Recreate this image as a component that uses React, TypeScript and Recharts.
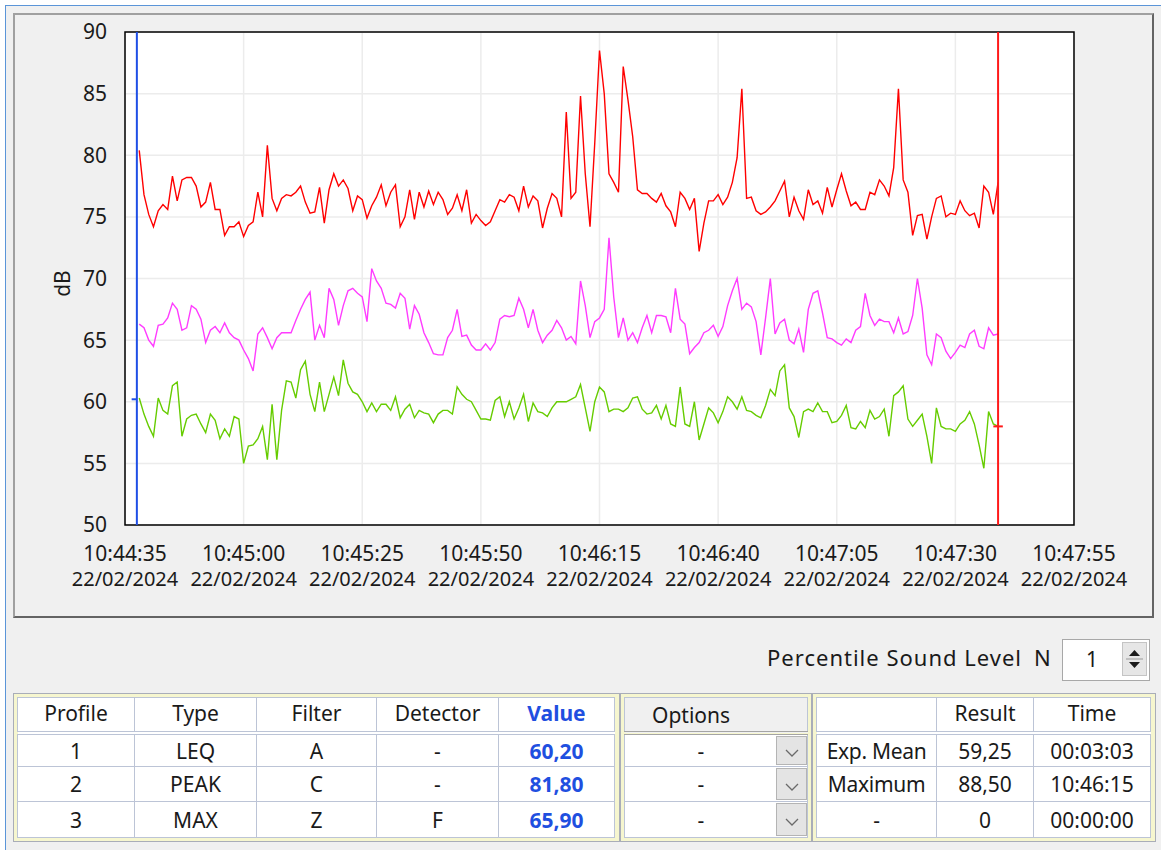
import {
  LineChart,
  Line,
  XAxis,
  YAxis,
  CartesianGrid,
  ReferenceArea,
  ReferenceLine,
} from "recharts";

const FONT = "'Noto Sans', 'DejaVu Sans', sans-serif";
const TEXT = "#1a1a1a";

// seconds after 10:44:35 of the first sample, one sample per second
const START_S = 3;

// Profile 2 - PEAK C (red)
const peakC = [
  80.4, 76.8, 75.2, 74.2, 75.5, 76.0, 75.6, 78.3, 76.3, 78.0,
  78.2, 78.2, 77.5, 75.8, 76.2, 77.8, 75.6, 75.6, 73.5, 74.2,
  74.2, 74.6, 73.4, 74.3, 74.6, 77.0, 75.0, 80.8, 76.5, 75.5,
  76.5, 76.8, 76.7, 77.0, 77.5, 76.2, 75.3, 75.4, 77.4, 74.5,
  77.2, 78.5, 77.5, 78.0, 77.3, 75.5, 76.7, 76.4, 74.9, 75.9,
  76.6, 77.6, 75.9, 77.0, 77.6, 74.2, 75.0, 77.2, 74.8, 77.0,
  75.8, 77.1, 76.0, 77.0, 76.4, 75.2, 75.7, 76.8, 75.5, 77.2,
  74.5, 75.2, 74.7, 74.3, 74.6, 75.5, 76.4, 76.2, 76.8, 76.6,
  75.5, 77.5, 75.8, 76.7, 76.3, 74.1, 75.7, 76.9, 76.5, 75.0,
  83.5, 76.5, 77.0, 84.8, 78.5, 74.2, 81.0, 88.5, 85.0, 78.5,
  77.8, 77.0, 87.2, 84.5, 81.5, 77.2, 76.9, 76.9, 76.5, 76.2,
  76.9, 75.9, 75.4, 74.2, 77.0, 76.5, 75.6, 76.5, 72.2, 74.5,
  76.3, 76.3, 76.8, 76.0, 76.6, 77.8, 79.8, 85.4, 76.5, 76.6,
  75.5, 75.2, 75.4, 75.8, 76.3, 77.1, 77.9, 75.0, 76.6, 75.5,
  74.8, 77.2, 76.0, 76.3, 75.3, 77.4, 75.8, 77.2, 78.5, 77.1,
  75.9, 76.2, 75.6, 75.6, 77.0, 76.8, 78.0, 77.5, 76.7, 79.0,
  85.4, 78.0, 77.0, 73.5, 75.1, 75.2, 73.2, 75.0, 76.5, 76.7,
  75.0, 75.3, 75.2, 76.3, 75.5, 75.1, 75.3, 74.1, 77.5, 77.0,
  75.2, 77.8,
];

// Profile 3 - MAX Z F (magenta)
const maxZ = [
  66.3, 66.0, 65.0, 64.5, 66.2, 66.3, 66.8, 68.0, 67.5, 65.8,
  66.0, 67.8, 67.5, 66.7, 64.8, 65.8, 66.1, 65.6, 66.4, 65.6,
  65.2, 65.0, 64.2, 63.5, 62.5, 65.5, 66.0, 65.2, 64.3, 65.2,
  65.6, 65.6, 65.6, 66.6, 67.5, 68.3, 68.9, 65.0, 66.2, 65.2,
  69.2, 68.3, 66.2, 67.8, 69.0, 69.2, 68.8, 68.5, 66.5, 70.8,
  69.8, 69.2, 68.0, 67.9, 67.6, 68.8, 68.4, 65.9, 67.8, 67.1,
  65.6, 64.8, 63.9, 63.8, 63.8, 65.2, 65.8, 67.5, 65.3, 65.4,
  64.6, 64.2, 64.2, 64.7, 64.2, 64.8, 66.7, 67.0, 66.9, 67.0,
  68.4, 67.5, 66.0, 67.5, 65.8, 64.8, 65.4, 65.8, 66.6, 66.0,
  65.0, 65.3, 64.7, 69.8, 67.8, 65.2, 66.5, 66.8, 67.5, 73.3,
  68.5, 65.2, 66.8, 65.0, 65.6, 64.8, 66.0, 67.0, 65.6, 67.0,
  67.0, 66.9, 65.6, 69.2, 66.7, 66.3, 63.9, 64.4, 64.8, 65.6,
  65.8, 66.2, 65.3, 66.1, 67.8, 69.0, 70.0, 67.5, 68.0, 67.7,
  66.5, 63.8, 66.8, 70.0, 65.5, 66.4, 66.7, 65.0, 64.7, 65.9,
  64.0, 67.5, 68.8, 69.0, 67.2, 65.2, 65.1, 64.8, 64.6, 65.1,
  64.8, 65.8, 66.1, 68.8, 67.0, 66.2, 66.7, 66.5, 66.5, 65.6,
  66.8, 65.5, 65.7, 67.0, 70.0, 67.6, 63.8, 63.0, 65.5, 65.2,
  64.1, 63.5, 64.0, 64.6, 64.4, 65.5, 65.8, 64.5, 64.3, 66.0,
  65.4, 65.5,
];

// Profile 1 - LEQ A (green)
const leqA = [
  60.3, 59.0, 58.0, 57.2, 60.3, 59.3, 59.0, 61.3, 61.6, 57.2,
  58.6, 58.9, 59.0, 58.2, 57.5, 59.0, 58.5, 57.0, 57.8, 57.2,
  58.8, 58.6, 55.0, 56.4, 56.5, 57.0, 58.0, 55.3, 59.8, 55.3,
  59.3, 61.7, 61.6, 60.3, 62.6, 63.3, 60.6, 59.2, 61.6, 59.2,
  60.6, 62.0, 60.5, 63.4, 61.5, 60.8, 60.6, 60.0, 59.2, 59.9,
  59.2, 59.8, 59.8, 59.3, 60.4, 58.7, 59.4, 59.8, 58.7, 59.3,
  59.1, 59.0, 58.3, 59.0, 59.3, 59.3, 59.0, 61.2, 60.6, 60.2,
  60.0, 59.3, 58.6, 58.6, 58.5, 60.1, 60.4, 58.8, 60.0, 58.6,
  59.5, 60.6, 58.4, 59.9, 59.2, 59.1, 58.8, 59.5, 60.0, 60.0,
  60.0, 60.2, 60.4, 61.4, 59.5, 57.6, 60.0, 61.2, 60.8, 59.2,
  59.4, 59.4, 59.2, 59.5, 60.3, 60.4, 59.4, 59.0, 59.1, 59.7,
  58.6, 59.7, 58.2, 58.0, 61.2, 58.2, 58.0, 60.0, 56.9, 58.2,
  59.5, 59.1, 58.3, 59.2, 60.4, 60.0, 59.4, 60.4, 59.3, 59.2,
  58.9, 58.7, 59.7, 61.0, 60.5, 62.5, 63.0, 59.5, 58.8, 57.1,
  59.2, 59.4, 59.2, 59.9, 59.2, 59.2, 58.3, 58.4, 58.9, 59.7,
  57.9, 57.8, 58.4, 57.9, 59.3, 58.6, 58.8, 59.4, 57.2, 60.5,
  60.8, 61.3, 58.6, 58.0, 58.5, 59.0, 57.2, 55.0, 59.5, 58.0,
  57.8, 57.8, 57.6, 58.2, 58.5, 59.2, 58.2, 56.5, 54.6, 59.2,
  58.2, 58.0,
];

const xTicks = [0, 25, 50, 75, 100, 125, 150, 175, 200];
const xTickTimes = [
  "10:44:35", "10:45:00", "10:45:25", "10:45:50", "10:46:15",
  "10:46:40", "10:47:05", "10:47:30", "10:47:55",
];
const xTickDate = "22/02/2024";
const yTicks = [50, 55, 60, 65, 70, 75, 80, 85, 90];

const cursorStart = 2.5;
const cursorEnd = 184;
const cursorStartLevel = 60.2;
const cursorEndLevel = 58.0;

const profileHeader = ["Profile", "Type", "Filter", "Detector", "Value"];
const profileRows = [
  ["1", "LEQ", "A", "-", "60,20"],
  ["2", "PEAK", "C", "-", "81,80"],
  ["3", "MAX", "Z", "F", "65,90"],
];
const optionRows = ["-", "-", "-"];
const resultHeader = ["", "Result", "Time"];
const resultRows = [
  ["Exp. Mean", "59,25", "00:03:03"],
  ["Maximum", "88,50", "10:46:15"],
  ["-", "0", "00:00:00"],
];
const percentileN = "1";

const data = peakC.map((v, i) => ({
  t: START_S + i,
  peak: v,
  max: maxZ[i],
  leq: leqA[i],
}));

const TimeTick = (props: any) => {
  const { x, y, payload } = props;
  const i = xTicks.indexOf(payload.value);
  return (
    <g>
      <text x={x} y={y + 28} textAnchor="middle" dominantBaseline="central"
        fontSize={21} fontFamily={FONT} fill={TEXT}>
        {xTickTimes[i]}
      </text>
      <text x={x} y={y + 53} textAnchor="middle" dominantBaseline="central"
        fontSize={20} fontFamily={FONT} fill={TEXT}>
        {xTickDate}
      </text>
    </g>
  );
};

const UnitLabel = (props: any) => {
  const { viewBox } = props;
  const cx = viewBox.x + 48;
  const cy = viewBox.y + viewBox.height / 2 + 5;
  return (
    <text x={cx} y={cy} transform={`rotate(-90, ${cx}, ${cy})`} textAnchor="middle"
      dominantBaseline="central" fontSize={21} fontFamily={FONT} fill={TEXT}>
      dB
    </text>
  );
};

const cellBorder = "1px solid #bcc4d6";
const rowHeights = [31, 34, 35];

const Frame = ({ left, width, children }: any) => (
  <div
    style={{
      position: "absolute",
      left,
      top: 693,
      width,
      height: 149,
      boxSizing: "border-box",
      border: "1px solid #a9adb8",
      padding: 3,
      background: "#f6f6cf",
    }}
  >
    {children}
  </div>
);

const cellStyle = (h: number, extra: any = {}) => ({
  border: cellBorder,
  height: h,
  padding: 0,
  textAlign: "center" as const,
  fontSize: 21,
  color: TEXT,
  background: "#fff",
  whiteSpace: "nowrap" as const,
  ...extra,
});

const Chevron = () => (
  <svg width="14" height="9" viewBox="0 0 14 9">
    <polyline points="1,1 7,7 13,1" fill="none" stroke="#6a6a6a" strokeWidth="1.3" />
  </svg>
);

export default function App() {
  return (
    <div
      style={{
        position: "absolute",
        left: 0,
        top: 0,
        width: 1161,
        height: 850,
        overflow: "hidden",
        background: "#fff",
        fontFamily: FONT,
      }}
    >
      <div
        style={{
          position: "absolute",
          left: 5,
          top: 5,
          width: 1160,
          height: 860,
          borderLeft: "1px solid #5b95d8",
          borderTop: "1px solid #5b95d8",
          background: "#f0f0f0",
        }}
      />
      <div
        style={{
          position: "absolute",
          left: 13,
          top: 13,
          width: 1141,
          height: 605,
          boxSizing: "border-box",
          borderTop: "2px solid #a0a0a0",
          borderLeft: "2px solid #a0a0a0",
          borderRight: "2px solid #646464",
          borderBottom: "2px solid #646464",
        }}
      />
      <div style={{ position: "absolute", left: 14, top: 14 }}>
        <LineChart
          width={1138}
          height={602}
          data={data}
          margin={{ top: 18, right: 78, bottom: 0, left: 0 }}
        >
          <CartesianGrid stroke="#ececec" strokeWidth={1.5} fill="#ffffff" fillOpacity={1} />
          <XAxis
            dataKey="t"
            type="number"
            domain={[0, 200]}
            ticks={xTicks}
            interval={0}
            axisLine={false}
            tickLine={false}
            tickSize={0}
            tickMargin={0}
            height={91}
            tick={<TimeTick />}
          />
          <YAxis
            type="number"
            domain={[50, 90]}
            ticks={yTicks}
            interval={0}
            axisLine={false}
            tickLine={false}
            tickSize={0}
            tickMargin={18}
            width={111}
            tick={{ fontSize: 21, fontFamily: FONT, fill: TEXT }}
            label={<UnitLabel />}
          />
          <ReferenceArea x1={0} x2={200} y1={50} y2={90} fill="none" stroke="#000" strokeWidth={1.5} />
          <Line type="linear" dataKey="peak" name="PEAK C" stroke="#ff0000" strokeWidth={1.4} dot={false} isAnimationActive={false} />
          <Line type="linear" dataKey="max" name="MAX Z F" stroke="#ff3cff" strokeWidth={1.4} dot={false} isAnimationActive={false} />
          <Line type="linear" dataKey="leq" name="LEQ A" stroke="#66cc00" strokeWidth={1.4} dot={false} isAnimationActive={false} />
          <ReferenceLine x={cursorStart} stroke="#1f4fe6" strokeWidth={2} />
          <ReferenceLine
            segment={[{ x: 1.4, y: cursorStartLevel }, { x: cursorStart, y: cursorStartLevel }]}
            stroke="#1f4fe6"
            strokeWidth={2}
          />
          <ReferenceLine x={cursorEnd} stroke="#ff1a1a" strokeWidth={2} />
          <ReferenceLine
            segment={[{ x: cursorEnd - 1, y: cursorEndLevel }, { x: cursorEnd + 1, y: cursorEndLevel }]}
            stroke="#ff1a1a"
            strokeWidth={2}
          />
        </LineChart>
      </div>

      {/* percentile selector */}
      <div style={{ position: "absolute", left: 660, top: 642, width: 362, textAlign: "right", fontSize: 22, letterSpacing: 1, color: TEXT, lineHeight: "30px" }}>
        Percentile Sound Level
      </div>
      <div style={{ position: "absolute", left: 1034, top: 642, fontSize: 22, color: TEXT, lineHeight: "30px" }}>N</div>
      <div
        style={{
          position: "absolute",
          left: 1062,
          top: 639,
          width: 88,
          height: 42,
          boxSizing: "border-box",
          border: "1px solid #a8a8a8",
          background: "#fff",
        }}
      >
        <div style={{ position: "absolute", left: 0, width: 58, top: 5, textAlign: "center", fontSize: 21, color: TEXT }}>
          {percentileN}
        </div>
        <div
          style={{
            position: "absolute",
            left: 59,
            top: 2,
            width: 25,
            height: 34,
            boxSizing: "border-box",
            border: "1px solid #c4c4c4",
            background: "#e6e6e6",
          }}
        >
          <svg width="23" height="32" viewBox="0 0 23 32">
            <polygon points="6,13 11.5,7 17,13" fill="#1a1a1a" />
            <line x1="3" y1="16" x2="20" y2="16" stroke="#9a9a9a" />
            <polygon points="6,19 11.5,25 17,19" fill="#1a1a1a" />
          </svg>
        </div>
      </div>

      {/* profile table */}
      <Frame left={13} width={607}>
        <table style={{ borderCollapse: "collapse", tableLayout: "fixed", width: 597, fontFamily: FONT }}>
          <colgroup>
            {[117, 122, 120, 122, 116].map((w, i) => <col key={i} style={{ width: w }} />)}
          </colgroup>
          <tbody>
            <tr>
              {profileHeader.map((h, i) => (
                <td key={h} style={cellStyle(33, {
                  borderBottom: "4px double #bcc4d6",
                  color: i === 4 ? "#1f4fe0" : TEXT,
                  fontWeight: i === 4 ? 700 : 400,
                  verticalAlign: "top",
                  lineHeight: "30px",
                })}>{h}</td>
              ))}
            </tr>
            {profileRows.map((r, ri) => (
              <tr key={ri}>
                {r.map((c, ci) => (
                  <td key={ci} style={cellStyle(rowHeights[ri], ci === 4 ? { color: "#1f4fe0", fontWeight: 700 } : {})}>{c}</td>
                ))}
              </tr>
            ))}
          </tbody>
        </table>
      </Frame>

      {/* options table */}
      <Frame left={620} width={192}>
        <table style={{ borderCollapse: "collapse", tableLayout: "fixed", width: 184, fontFamily: FONT }}>
          <tbody>
            <tr>
              <td style={cellStyle(33, {
                textAlign: "left",
                paddingLeft: 27,
                background: "#f0f0f0",
                borderBottom: "4px double #a4a4a4",
              })}>Options</td>
            </tr>
            {optionRows.map((o, i) => (
              <tr key={i}>
                <td style={cellStyle(rowHeights[i], { position: "relative" })}>
                  <span style={{ position: "absolute", left: 0, width: 152, top: "50%", transform: "translateY(-50%)", textAlign: "center" }}>{o}</span>
                  <span
                    style={{
                      position: "absolute",
                      right: 0,
                      top: 1,
                      bottom: 1,
                      width: 31,
                      boxSizing: "border-box",
                      border: "1px solid #b4b4b4",
                      background: "#e4e4e4",
                      display: "flex",
                      alignItems: "center",
                      justifyContent: "center",
                      paddingTop: 6,
                    }}
                  >
                    <Chevron />
                  </span>
                </td>
              </tr>
            ))}
          </tbody>
        </table>
      </Frame>

      {/* results table */}
      <Frame left={812} width={344}>
        <table style={{ borderCollapse: "collapse", tableLayout: "fixed", width: 334, fontFamily: FONT }}>
          <colgroup>
            {[120, 97, 117].map((w, i) => <col key={i} style={{ width: w }} />)}
          </colgroup>
          <tbody>
            <tr>
              {resultHeader.map((h, i) => (
                <td key={i} style={cellStyle(33, { borderBottom: "4px double #bcc4d6", verticalAlign: "top", lineHeight: "30px" })}>{h}</td>
              ))}
            </tr>
            {resultRows.map((r, ri) => (
              <tr key={ri}>
                {r.map((c, ci) => (
                  <td key={ci} style={cellStyle(rowHeights[ri], { letterSpacing: ci === 0 ? -0.3 : 0 })}>{c}</td>
                ))}
              </tr>
            ))}
          </tbody>
        </table>
      </Frame>
    </div>
  );
}
